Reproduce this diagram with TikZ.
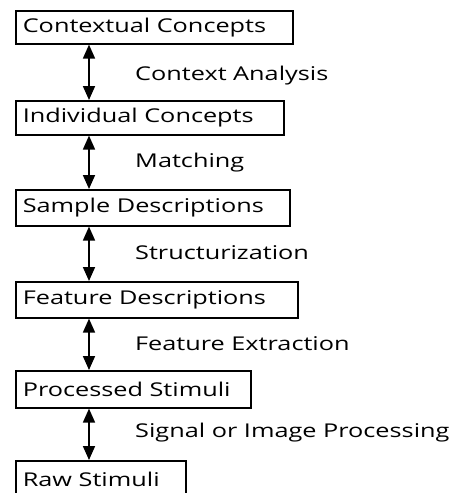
\documentclass[tikz,border=0pt]{standalone}
\usepackage{fontspec}
\setmainfont{Open Sans}[FakeStretch=1.33]
\usetikzlibrary{arrows.meta}
\begin{document}
\begin{tikzpicture}[x=1pt,y=-1pt,
  txt/.style={font=\fontsize{19}{22}\selectfont},
  box/.style={txt, draw, line width=1.6pt, anchor=north west, inner xsep=7pt, inner ysep=0pt},
  lbl/.style={txt, anchor=west, inner sep=0pt},
  link/.style={line width=1.7pt, {Triangle[length=14pt,width=12pt]}-{Triangle[length=14pt,width=12pt]}}]
\useasboundingbox (0,0) rectangle (465,493);
\node[box, minimum height=33pt] (c1) at (15,10) {\makebox[263pt][l]{Contextual Concepts}};
\node[box, minimum height=34pt] (c2) at (15,100) {\makebox[254pt][l]{Individual Concepts}};
\node[box, minimum height=36pt] (c3) at (15,189) {\makebox[260pt][l]{Sample Descriptions}};
\node[box, minimum height=36pt] (c4) at (15,281) {\makebox[268pt][l]{Feature Descriptions}};
\node[box, minimum height=37pt] (c5) at (15,370) {\makebox[221pt][l]{Processed Stimuli}};
\node[box, minimum height=37pt] (c6) at (15,460) {\makebox[156pt][l]{Raw Stimuli}};
\draw[link] ([xshift=74pt]c1.south west) -- ([xshift=74pt]c2.north west);
\draw[link] ([xshift=74pt]c2.south west) -- ([xshift=74pt]c3.north west);
\draw[link] ([xshift=74pt]c3.south west) -- ([xshift=74pt]c4.north west);
\draw[link] ([xshift=74pt]c4.south west) -- ([xshift=74pt]c5.north west);
\draw[link] ([xshift=74pt]c5.south west) -- ([xshift=74pt]c6.north west);
\node[lbl] (l1) at (135,76) {Context Analysis};
\node[lbl] (l2) at (135,163) {Matching};
\node[lbl] (l3) at (135,253) {Structurization};
\node[lbl] (l4) at (135,344) {Feature Extraction};
\node[lbl] (l5) at (135,433) {Signal or Image Processing};
\end{tikzpicture}
\end{document}
